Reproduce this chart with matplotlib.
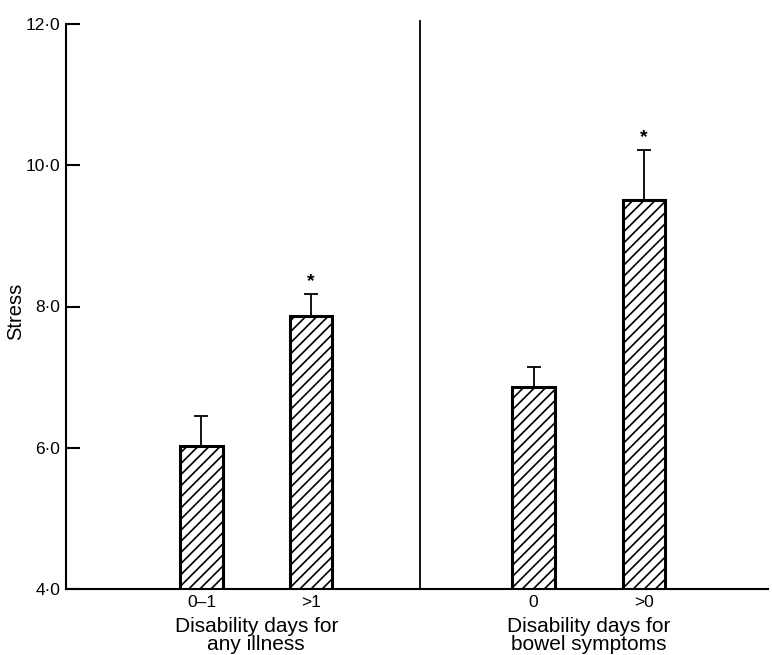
import matplotlib
matplotlib.use("Agg")
import matplotlib.pyplot as plt
from matplotlib.ticker import FuncFormatter

# Mean stress score by disability-day group, with upper standard-error bars
groups = ["0\u20131", ">1", "0", ">0"]
means = [6.02, 7.87, 6.86, 9.51]
errors = [0.43, 0.31, 0.28, 0.71]
significant = [False, True, False, True]
panel_titles = ["Disability days for\nany illness", "Disability days for\nbowel symptoms"]
yticks = [4.0, 6.0, 8.0, 10.0, 12.0]

# horizontal layout (axis units)
positions = [1.93, 3.49, 6.66, 8.23]
panel_centres = [2.71, 7.445]
divider_x = 5.04
bar_width = 0.6

plt.rcParams["font.family"] = ["Liberation Sans", "DejaVu Sans"]
plt.rcParams["hatch.linewidth"] = 1.2

fig = plt.figure(figsize=(7.72, 6.55), dpi=100)
ax = fig.add_axes([66 / 772, 66 / 655, 702 / 772, 565 / 655])

ax.bar(positions, means, width=bar_width, bottom=0, color="white",
       edgecolor="black", linewidth=2.2, hatch="///", zorder=2)
ax.errorbar(positions, means, yerr=[[0] * len(errors), errors], fmt="none",
            ecolor="black", elinewidth=1.3, capsize=5.2, capthick=1.3, zorder=1)

for x, m, e, sig in zip(positions, means, errors, significant):
    if sig:
        ax.text(x, m + e + 0.05, "*", ha="center", va="bottom",
                fontsize=14, fontweight="bold")

ax.plot([divider_x, divider_x], [4.0, 12.04], color="black", lw=1.3,
        clip_on=False, zorder=3)

ax.set_xlim(0, 10)
ax.set_ylim(4.0, 12.0)
ax.set_yticks(yticks)
ax.yaxis.set_major_formatter(FuncFormatter(lambda v, p: f"{v:.1f}".replace(".", "\u00b7")))
ax.tick_params(axis="y", direction="in", length=10, width=1.5, labelsize=12.5, pad=4)
ax.set_xticks(positions)
ax.set_xticklabels(groups)
ax.tick_params(axis="x", length=0, labelsize=12.5, pad=4)

for spine in ("top", "right"):
    ax.spines[spine].set_visible(False)
for spine in ("left", "bottom"):
    ax.spines[spine].set_linewidth(1.5)

fig.text(16 / 772, 1 - 311 / 655, "Stress", rotation=90, ha="center", va="center",
         fontsize=14.5)

for cx, title in zip(panel_centres, panel_titles):
    ax.text(cx, -0.049, title, transform=ax.get_xaxis_transform(),
            ha="center", va="top", fontsize=15, linespacing=0.98)

fig.savefig("out.png", dpi=100)
